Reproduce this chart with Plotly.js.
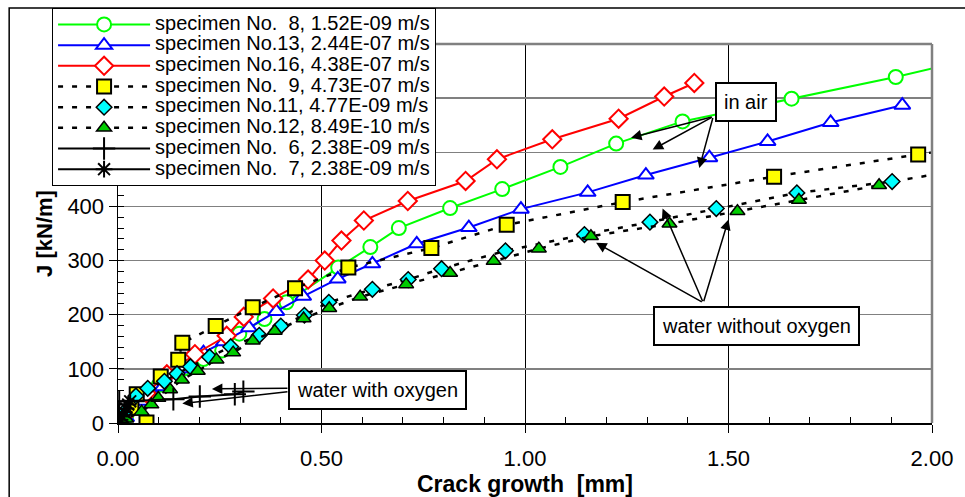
<!DOCTYPE html>
<html>
<head>
<meta charset="utf-8">
<script src="https://cdn.plot.ly/plotly-3.0.1.min.js"></script>
<style>html,body{margin:0;padding:0;background:#fff;}#chart{width:965px;height:497px;}</style>
</head>
<body>
<div id="chart"></div>
<script>
// ---- data ----
var names = [
  'specimen No.\u00a0 8, 1.52E-09 m/s',
  'specimen No.13, 2.44E-07 m/s',
  'specimen No.16, 4.38E-07 m/s',
  'specimen No.\u00a0 9, 4.73E-07 m/s',
  'specimen No.11, 4.77E-09 m/s',
  'specimen No.12, 8.49E-10 m/s',
  'specimen No.\u00a0 6, 2.38E-09 m/s',
  'specimen No.\u00a0 7, 2.38E-09 m/s'
];
// specimen 8 (in air)
var x8 = [0.00, 0.02, 0.05, 0.10, 0.16, 0.21, 0.256, 0.298, 0.36, 0.414, 0.541, 0.62, 0.69, 0.816, 0.944, 1.087, 1.224, 1.387, 1.655, 1.911, 2.03];
var y8 = [0, 12, 35, 70, 100, 118, 134, 165, 192, 223, 287, 325, 360, 397, 432, 473, 516, 557, 599, 639, 660];
// specimen 13 (in air)
var x13 = [0.00, 0.02, 0.06, 0.11, 0.16, 0.21, 0.26, 0.322, 0.389, 0.455, 0.54, 0.625, 0.734, 0.862, 0.99, 1.154, 1.297, 1.453, 1.596, 1.751, 1.927];
var y13 = [0, 10, 40, 67, 100, 130, 150, 176, 206, 234, 266, 294, 331, 361, 395, 426, 458, 490, 520, 555, 587];
// specimen 16 (in air)
var x16 = [0.00, 0.03, 0.07, 0.12, 0.189, 0.267, 0.309, 0.381, 0.467, 0.508, 0.549, 0.604, 0.712, 0.854, 0.931, 1.067, 1.23, 1.342, 1.416];
var y16 = [0, 25, 55, 90, 127, 161, 196, 230, 265, 300, 337, 374, 410, 447, 487, 524, 562, 603, 628];
// specimen 9 (water without oxygen)
var x9 = [0.07, 0.033, 0.046, 0.105, 0.148, 0.158, 0.24, 0.331, 0.435, 0.566, 0.77, 0.955, 1.24, 1.612, 1.966, 2.03];
var y9 = [1, 28, 53, 86, 117, 148, 179, 214, 249, 287, 323, 366, 408, 455, 496, 503];
// specimen 11 (water without oxygen)
var x11 = [0.00, 0.015, 0.044, 0.073, 0.114, 0.145, 0.178, 0.225, 0.277, 0.347, 0.40, 0.458, 0.518, 0.625, 0.713, 0.795, 0.952, 1.146, 1.307, 1.47, 1.668, 1.902, 2.03];
var y11 = [0, 20, 50, 64, 77, 91, 104, 122, 141, 162, 179, 199, 223, 247, 265, 285, 318, 348, 371, 396, 425, 446, 462];
// specimen 12 (water without oxygen)
var x12 = [0.00, 0.02, 0.058, 0.082, 0.099, 0.128, 0.157, 0.196, 0.242, 0.283, 0.331, 0.385, 0.456, 0.519, 0.595, 0.708, 0.816, 0.923, 1.034, 1.162, 1.355, 1.522, 1.673, 1.87];
var y12 = [0, 8, 21, 34, 46, 62, 80, 96, 117, 130, 152, 170, 193, 212, 233, 256, 277, 299, 322, 345, 368, 391, 412, 439];
// specimen 6 (water with oxygen)
var x6 = [0.00, 0.003, 0.136, 0.201, 0.287, 0.308];
var y6 = [0, 40, 44, 49, 53, 58];
// specimen 7 (water with oxygen)
var x7 = [0.00, 0.005, 0.01, 0.015, 0.02, 0.025, 0.03];
var y7 = [0, 6, 12, 20, 27, 34, 40];

var xTicks = [0, 0.5, 1.0, 1.5, 2.0];
var xTickText = ['0.00', '0.50', '1.00', '1.50', '2.00'];
var yTicks = [0, 100, 200, 300, 400, 500, 600, 700];

// ---- styling ----
var FONT = 'Liberation Sans, Arial, sans-serif';
function lg(t){ return '<span style="font-size:20px">' + t + '</span>'; }

var dashed = {color: '#000000', width: 2.5, dash: '5px,9px'};
var traces = [
  {x: x8, y: y8, name: lg(names[0]), mode: 'lines+markers',
   line: {color: '#00FF00', width: 2},
   marker: {symbol: 'circle', size: 14, color: '#FFFFFF', line: {color: '#00FF00', width: 2}}},
  {x: x13, y: y13, name: lg(names[1]), mode: 'lines+markers',
   line: {color: '#0000FF', width: 2},
   marker: {symbol: 'triangle-up', size: 14, color: '#FFFFFF', line: {color: '#0000FF', width: 2}}},
  {x: x16, y: y16, name: lg(names[2]), mode: 'lines+markers',
   line: {color: '#FF0000', width: 2},
   marker: {symbol: 'diamond', size: 14, color: '#FFFFFF', line: {color: '#FF0000', width: 2}}},
  {x: x9, y: y9, name: lg(names[3]), mode: 'lines+markers',
   line: dashed,
   marker: {symbol: 'square', size: 14, color: '#FFFF00', line: {color: '#000000', width: 2}}},
  {x: x11, y: y11, name: lg(names[4]), mode: 'lines+markers',
   line: dashed,
   marker: {symbol: 'diamond', size: 12, color: '#00FFFF', line: {color: '#000000', width: 1.5}}},
  {x: x12, y: y12, name: lg(names[5]), mode: 'lines+markers',
   line: dashed,
   marker: {symbol: 'triangle-up', size: 13, color: '#00CC00', line: {color: '#000000', width: 1.5}}},
  {x: x6, y: y6, name: lg(names[6]), mode: 'lines+markers',
   line: {color: '#000000', width: 2},
   marker: {symbol: 'cross-thin', size: 16, color: '#000000', line: {color: '#000000', width: 2}}},
  {x: x7, y: y7, name: lg(names[7]), mode: 'lines+markers',
   line: {color: '#000000', width: 2},
   marker: {symbol: 'asterisk', size: 14, color: '#000000', line: {color: '#000000', width: 2}}}
];
traces.forEach(function(t){ t.type = 'scatter'; });

function box(x, y, text){
  return {x: x, y: y, xref: 'x', yref: 'y', text: text, showarrow: false,
    font: {family: FONT, size: 20, color: '#000'}, bgcolor: '#FFFFFF',
    bordercolor: '#000000', borderwidth: 2, borderpad: 7};
}
function arrow(tx, ty, hx, hy){
  return {x: hx, y: hy, xref: 'x', yref: 'y', ax: tx, ay: ty, axref: 'x', ayref: 'y',
    text: '', showarrow: true, arrowhead: 2, arrowsize: 1.4, arrowwidth: 1.5,
    arrowcolor: '#000000', standoff: 0, startstandoff: 0};
}

var annotations = [
  arrow(1.4625, 566, 1.2606, 527),
  arrow(1.4625, 566, 1.3136, 505),
  arrow(1.4625, 566, 1.4282, 471),
  arrow(0.42, 64, 0.2307, 63),
  arrow(0.42, 58, 0.158, 36),
  arrow(1.438, 222, 1.1747, 333),
  arrow(1.438, 222, 1.338, 396),
  arrow(1.438, 222, 1.500, 376),
  box(1.544, 593, 'in air'),
  box(0.637, 61.6, 'water with oxygen'),
  box(1.568, 180, 'water without oxygen')
];

var layout = {
  width: 965, height: 497,
  margin: {l: 118, r: 33, t: 44, b: 74, autoexpand: false},
  paper_bgcolor: '#FFFFFF', plot_bgcolor: '#FFFFFF',
  font: {family: FONT, color: '#000000'},
  showlegend: true,
  legend: {x: -0.081, y: 1.0947, xanchor: 'left', yanchor: 'top',
    bgcolor: '#FFFFFF', bordercolor: '#000000', borderwidth: 1,
    font: {family: FONT, size: 13.6, color: '#000'}, itemwidth: 92,
    traceorder: 'normal'},
  xaxis: {
    range: [0, 2.0], tickvals: xTicks, ticktext: xTickText,
    showline: true, linecolor: '#000000', linewidth: 1.5,
    showgrid: true, gridcolor: '#000000', gridwidth: 1, zeroline: false,
    ticks: 'outside', ticklen: 8, tickcolor: '#000000', tickwidth: 1,
    tickfont: {family: FONT, size: 22, color: '#000'}, ticklabelstandoff: 7,
    minor: {dtick: 0.1, ticks: 'inside', ticklen: 6, tickcolor: '#000', tickwidth: 1, showgrid: false},
    title: {text: 'Crack growth  [mm]', font: {family: FONT, size: 23, weight: 'bold', color: '#000'}, standoff: 3},
    fixedrange: true
  },
  yaxis: {
    range: [0, 700], tickvals: yTicks,
    showline: true, linecolor: '#000000', linewidth: 1.5,
    showgrid: true, gridcolor: '#808080', gridwidth: 1.3, zeroline: false,
    ticks: 'outside', ticklen: 8, tickcolor: '#000000', tickwidth: 1,
    tickfont: {family: FONT, size: 22, color: '#000'},
    minor: {dtick: 20, ticks: 'inside', ticklen: 6, tickcolor: '#000', tickwidth: 1, showgrid: false},
    title: {text: 'J [kN/m]', font: {family: FONT, size: 22, weight: 'bold', color: '#000'}, standoff: 8},
    fixedrange: true
  },
  shapes: [
    {type: 'line', xref: 'paper', yref: 'paper', x0: 0, x1: 1, y0: 1, y1: 1, line: {color: '#808080', width: 2.5}},
    {type: 'line', xref: 'paper', yref: 'paper', x0: 1, x1: 1, y0: 0, y1: 1, line: {color: '#808080', width: 2.5}},
    {type: 'rect', xref: 'paper', yref: 'paper', x0: -0.1337, x1: 1.3, y0: -0.5, y1: 1.0947, line: {color: '#000000', width: 1.5}, layer: 'below'}
  ],
  annotations: annotations
};

Plotly.newPlot('chart', traces, layout, {staticPlot: true, displayModeBar: false});
</script>
</body>
</html>
